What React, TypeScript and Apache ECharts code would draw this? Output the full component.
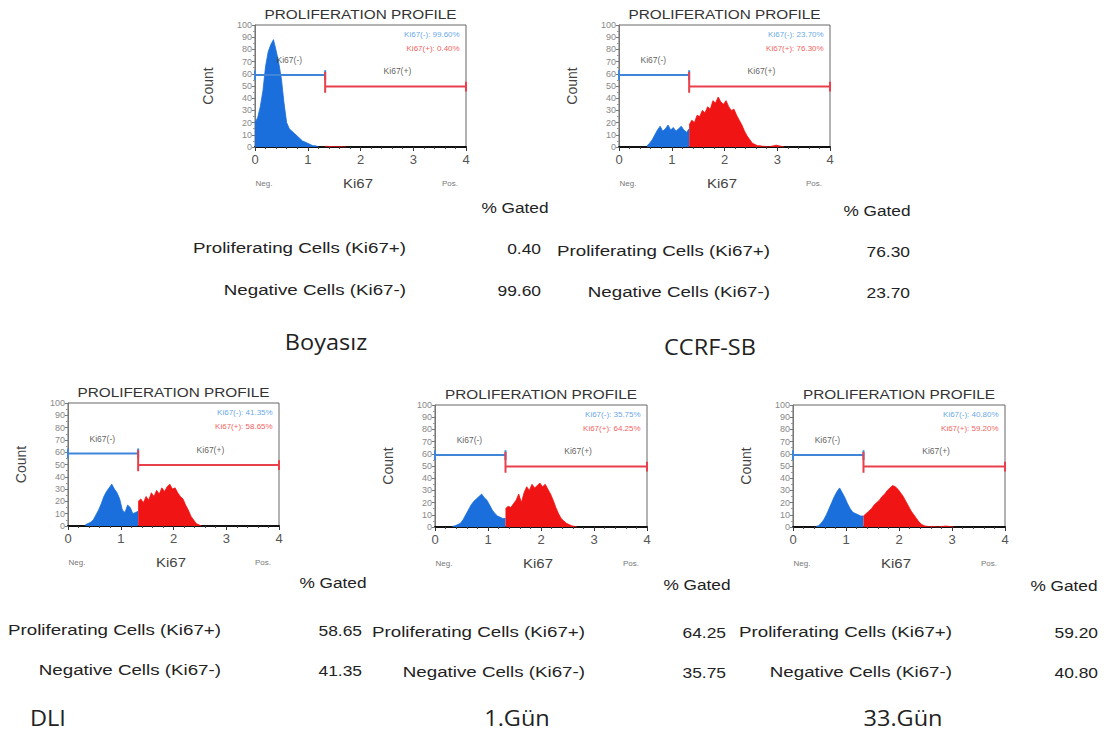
import React, { useEffect, useRef } from 'react';
import * as echarts from 'echarts';

// ---------- data ----------
const panelNames = ['Boyasız', 'CCRF-SB', 'DLI', '1.Gün', '33.Gün'];
const posPct = ['0.40', '76.30', '58.65', '64.25', '59.20'];
const negPct = ['99.60', '23.70', '41.35', '35.75', '40.80'];
const rowLabels = ['Proliferating Cells (Ki67+)', 'Negative Cells (Ki67-)'];
const xTickLabels = ['0', '1', '2', '3', '4'];

const binWidth = 0.05;
const blueStart = [0.0, 0.53, 0.33, 0.33, 0.43];
const redStart = [1.33, 1.33, 1.33, 1.33, 1.33];

const blueBoyasiz = [20, 24, 33, 46, 66, 78, 84, 88, 79, 69, 56, 36, 20, 15, 13, 11, 9, 7, 5, 4, 3, 2, 1, 1, 0];
const redBoyasiz = [0.6, 0.5, 0.4, 0.3, 0.3, 0.2, 0.2, 0.1, 0];
const blueCCRF = [1, 3, 6, 10, 14, 17, 13, 15, 18, 14, 16, 13, 15, 17, 14, 12, 15];
const redCCRF = [18, 22, 20, 26, 25, 30, 28, 33, 31, 38, 36, 41, 37, 35, 38, 33, 30, 31, 26, 22, 18, 13, 9, 6, 3, 2, 1, 1, 0.5, 0.5, 0, 0.5, 1, 1.5, 1, 0.5, 0];
const blueDLI = [1, 2, 3, 5, 9, 13, 18, 24, 28, 31, 34, 30, 27, 22, 13, 11, 17, 15, 10, 11, 12];
const redDLI = [20, 22, 19, 24, 21, 27, 24, 29, 26, 31, 28, 32, 34, 30, 31, 27, 24, 22, 17, 13, 8, 5, 2, 1, 0];
const blueGun1 = [0.5, 1, 2, 3, 6, 10, 14, 18, 21, 23, 25, 27, 24, 22, 18, 14, 11, 9, 8, 7, 7];
const redGun1 = [15, 17, 16, 19, 22, 27, 20, 28, 33, 30, 35, 32, 34, 36, 33, 35, 31, 27, 22, 16, 11, 7, 5, 3, 2, 1, 0.5, 0];
const blueGun33 = [0.5, 1, 3, 6, 10, 15, 20, 25, 29, 32, 28, 24, 19, 15, 12, 11, 10, 9, 9];
const redGun33 = [9, 11, 13, 15, 18, 20, 22, 25, 27, 30, 32, 34, 33, 31, 28, 25, 21, 17, 13, 10, 7, 4, 2, 1, 0.5, 0.3, 0.5, 0.3, 0, 0.3, 0.5, 0.8, 0.5, 0.3, 0];

const blueCounts = [blueBoyasiz, blueCCRF, blueDLI, blueGun1, blueGun33];
const redCounts = [redBoyasiz, redCCRF, redDLI, redGun1, redGun33];

const gateSplit = 1.33;
const gateMax = 4;
const gateNegY = 59;
const gatePosY = 49.5;

// ---------- layout ----------
const gridRects = [
  [255, 25, 211, 122],
  [619, 25, 211, 122],
  [68, 403, 211, 123],
  [435, 405, 212, 122],
  [793, 405, 212, 122],
];
// labelRight, pctRight, gatedX, gatedY, row1Y, row2Y, nameX, nameY
const tableLayout = [
  [406, 541, 515, 207, 248, 290, 326, 342],
  [770, 910, 877, 210, 251, 292, 710, 347],
  [221, 362, 333, 582, 630, 670, 48, 718],
  [585, 726, 697, 584, 632, 672, 517, 718],
  [952, 1098, 1064, 585, 632, 672, 903, 718],
];

const BLUE = '#1a6fdc';
const RED = '#f01414';
const GATE_BLUE = '#3f86d8';
const GATE_RED = '#e8404c';
const FONT = 'Liberation Sans, Arial, sans-serif';

export default function App() {
  const ref = useRef<HTMLDivElement>(null);
  useEffect(() => {
    const chart = echarts.init(ref.current!, null, { renderer: 'svg' });
    const grid: any[] = [];
    const xAxis: any[] = [];
    const yAxis: any[] = [];
    const series: any[] = [];
    const graphic: any[] = [];

    gridRects.forEach((r, i) => {
      const [l, t, w, h] = r;
      grid.push({ left: l, top: t, width: w, height: h, show: true, borderColor: '#666', borderWidth: 1, backgroundColor: '#fff' });
      xAxis.push({
        type: 'value', gridIndex: i, min: 0, max: 4, interval: 1,
        axisLine: { lineStyle: { color: '#111', width: 2 } },
        axisTick: { show: true, length: 4, lineStyle: { color: '#333' } },
        minorTick: { show: true, splitNumber: 5, length: 2, lineStyle: { color: '#444' } },
        splitLine: { show: false },
        axisLabel: { color: '#555', fontSize: 13, margin: 6, fontFamily: FONT, formatter: (v: number) => xTickLabels[Math.round(v)] ?? '' },
      });
      yAxis.push({
        type: 'value', gridIndex: i, min: 0, max: 100, interval: 10,
        name: 'Count', nameLocation: 'middle', nameGap: 40,
        nameTextStyle: { fontSize: 14, color: '#444', fontFamily: FONT },
        axisLine: { show: true, lineStyle: { color: '#777' } },
        axisTick: { show: true, length: 3, lineStyle: { color: '#777' } },
        minorTick: { show: true, splitNumber: 2, length: 2, lineStyle: { color: '#999' } },
        splitLine: { show: false },
        axisLabel: { fontSize: 9, color: '#888', margin: 3, fontFamily: FONT, showMinLabel: true, showMaxLabel: true },
      });

      const mk = (start: number, arr: number[]) => arr.map((c, j) => [+(start + j * binWidth).toFixed(3), c]);
      series.push({
        type: 'line', xAxisIndex: i, yAxisIndex: i, data: mk(blueStart[i], blueCounts[i]),
        symbol: 'none', lineStyle: { color: BLUE, width: 0.8 }, areaStyle: { color: BLUE, opacity: 1 }, z: 2,
      });
      series.push({
        type: 'line', xAxisIndex: i, yAxisIndex: i, data: mk(redStart[i], redCounts[i]),
        symbol: 'none', lineStyle: { color: RED, width: 0.8 }, areaStyle: { color: RED, opacity: 1 }, z: 2,
      });
      // gates
      series.push({
        type: 'line', xAxisIndex: i, yAxisIndex: i, symbol: 'none', z: 4,
        data: [[0, gateNegY - 4], [0, gateNegY + 4], [0, gateNegY], [gateSplit, gateNegY], [gateSplit, gateNegY - 4], [gateSplit, gateNegY + 4]],
        lineStyle: { color: GATE_BLUE, width: 2 },
      });
      series.push({
        type: 'line', xAxisIndex: i, yAxisIndex: i, symbol: 'none', z: 4,
        data: [[gateSplit, gatePosY - 5], [gateSplit, gatePosY + 12], [gateSplit, gatePosY], [gateMax, gatePosY], [gateMax, gatePosY - 4], [gateMax, gatePosY + 4]],
        lineStyle: { color: GATE_RED, width: 2 },
      });
      // in-plot labels
      series.push({
        type: 'scatter', xAxisIndex: i, yAxisIndex: i, symbolSize: 0, z: 5,
        data: [
          { value: [0.65, 71], label: { formatter: 'Ki67(-)', position: 'inside', color: '#333', fontSize: 8.5 } },
          { value: [2.7, 62], label: { formatter: 'Ki67(+)', position: 'inside', color: '#333', fontSize: 8.5 } },
          { value: [3.88, 92], label: { formatter: 'Ki67(-): ' + negPct[i] + '%', position: 'left', distance: 0, color: '#3a8ee6', fontSize: 8 } },
          { value: [3.88, 81], label: { formatter: 'Ki67(+): ' + posPct[i] + '%', position: 'left', distance: 0, color: '#f03030', fontSize: 8 } },
        ],
        label: { show: true, fontFamily: FONT },
      });

      // graphic texts around plot
      graphic.push({ type: 'text', x: l + w / 2, y: t - 11, scaleX: 1.18, style: { text: 'PROLIFERATION PROFILE', fill: '#333', fontSize: 13, fontFamily: FONT, textAlign: 'center', textVerticalAlign: 'middle' } });
      graphic.push({ type: 'text', x: l + 9, y: t + h + 36, style: { text: 'Neg.', fill: '#777', fontSize: 8, fontFamily: FONT, textAlign: 'center', textVerticalAlign: 'middle' } });
      graphic.push({ type: 'text', x: l + 103, y: t + h + 36, scaleX: 1.15, style: { text: 'Ki67', fill: '#444', fontSize: 13, fontFamily: FONT, textAlign: 'center', textVerticalAlign: 'middle' } });
      graphic.push({ type: 'text', x: l + w - 16, y: t + h + 36, style: { text: 'Pos.', fill: '#777', fontSize: 8, fontFamily: FONT, textAlign: 'center', textVerticalAlign: 'middle' } });

      const [labelRight, pctRight, gatedX, gatedY, row1Y, row2Y, nameX, nameY] = tableLayout[i];
      const tStyle = (text: string, align: string) => ({ text, fill: '#222', fontSize: 15, fontFamily: FONT, textAlign: align, textVerticalAlign: 'middle' });
      graphic.push({ type: 'text', x: gatedX, y: gatedY, scaleX: 1.15, style: tStyle('% Gated', 'center') });
      graphic.push({ type: 'text', x: labelRight, y: row1Y, scaleX: 1.25, style: tStyle(rowLabels[0], 'right') });
      graphic.push({ type: 'text', x: pctRight, y: row1Y, scaleX: 1.16, style: tStyle(posPct[i], 'right') });
      graphic.push({ type: 'text', x: labelRight, y: row2Y, scaleX: 1.25, style: tStyle(rowLabels[1], 'right') });
      graphic.push({ type: 'text', x: pctRight, y: row2Y, scaleX: 1.16, style: tStyle(negPct[i], 'right') });
      graphic.push({ type: 'text', x: nameX, y: nameY, scaleX: 1.12, style: { text: panelNames[i], fill: '#222', fontSize: 21, fontFamily: 'Open Sans, sans-serif', textAlign: 'center', textVerticalAlign: 'middle' } });
    });

    chart.setOption({ animation: false, backgroundColor: '#fff', grid, xAxis, yAxis, series, graphic });
    return () => chart.dispose();
  }, []);
  return <div ref={ref} style={{ position: 'fixed', left: 0, top: 0, width: 1109, height: 738 }} />;
}
